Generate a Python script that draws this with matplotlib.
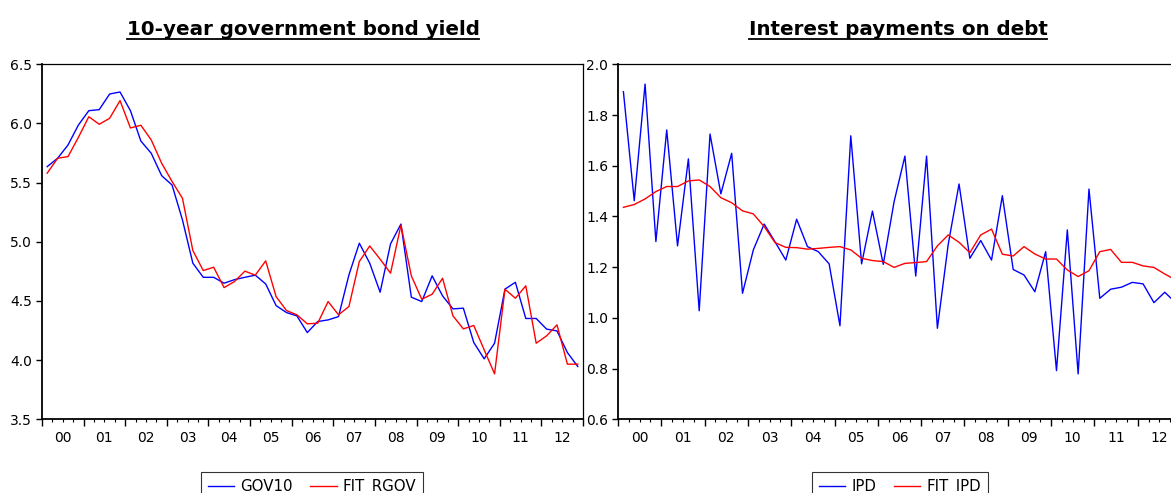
import numpy as np
import pandas as pd
import matplotlib
matplotlib.use("Agg")
import matplotlib.pyplot as plt
from matplotlib.lines import Line2D
from matplotlib.ticker import FixedLocator, FixedFormatter, NullFormatter

plt.rcParams['font.family'] = ['DejaVu Sans']

# Quarterly sample 2000Q1 - 2012Q4
quarters = pd.period_range('2000Q1', '2012Q4', freq='Q')
year_labels = ['00', '01', '02', '03', '04', '05', '06', '07', '08', '09', '10', '11', '12']

gov10 = [5.635, 5.706, 5.818, 5.987, 6.108, 6.117, 6.249, 6.266, 6.108, 5.852,
         5.748, 5.559, 5.480, 5.185, 4.819, 4.700, 4.700, 4.650, 4.680, 4.700,
         4.718, 4.644, 4.461, 4.402, 4.374, 4.233, 4.326, 4.340, 4.368, 4.720,
         4.988, 4.819, 4.574, 4.982, 5.150, 4.532, 4.495, 4.712, 4.543, 4.433,
         4.439, 4.149, 4.011, 4.143, 4.600, 4.658, 4.352, 4.352, 4.262, 4.247,
         4.064, 3.946]
fit_rgov = [5.580, 5.706, 5.720, 5.883, 6.057, 5.993, 6.044, 6.193, 5.962, 5.985,
            5.861, 5.664, 5.510, 5.368, 4.926, 4.757, 4.785, 4.613, 4.664, 4.752,
            4.718, 4.839, 4.537, 4.419, 4.383, 4.307, 4.312, 4.495, 4.383, 4.453,
            4.833, 4.965, 4.853, 4.735, 5.140, 4.712, 4.515, 4.557, 4.692, 4.374,
            4.264, 4.293, 4.087, 3.884, 4.599, 4.523, 4.628, 4.143, 4.205, 4.298,
            3.966, 3.966]

ipd = [1.892, 1.462, 1.922, 1.301, 1.741, 1.284, 1.627, 1.028, 1.725, 1.489,
       1.649, 1.097, 1.268, 1.370, 1.300, 1.228, 1.389, 1.281, 1.261, 1.213,
       0.969, 1.718, 1.213, 1.421, 1.211, 1.458, 1.638, 1.165, 1.638, 0.959,
       1.290, 1.528, 1.235, 1.305, 1.228, 1.482, 1.191, 1.169, 1.103, 1.261,
       0.792, 1.347, 0.779, 1.508, 1.077, 1.113, 1.121, 1.140, 1.134, 1.060,
       1.101, 1.060]
fit_ipd = [1.436, 1.447, 1.469, 1.498, 1.518, 1.518, 1.540, 1.544, 1.518, 1.474,
           1.454, 1.422, 1.410, 1.360, 1.297, 1.278, 1.277, 1.271, 1.274, 1.278,
           1.281, 1.268, 1.235, 1.226, 1.222, 1.199, 1.215, 1.218, 1.222, 1.284,
           1.327, 1.298, 1.257, 1.327, 1.350, 1.251, 1.244, 1.281, 1.252, 1.232,
           1.232, 1.189, 1.163, 1.186, 1.261, 1.270, 1.219, 1.219, 1.205, 1.199,
           1.173, 1.150]

W, H = 1171, 493
fig = plt.figure(figsize=(W / 100, H / 100), dpi=100)

# each quarter sits in the middle of its slot on the axis
n = len(quarters)
xpos = np.arange(n) + 0.5

BLUE = '#0000FF'
RED = '#FF0000'
TICK_FS = 10
LEGEND_FS = 10.8


def px_axes(left, right, top, bottom):
    return fig.add_axes([left / W, (H - bottom) / H, (right - left) / W, (bottom - top) / H])


def style_axes(ax, ylim, yticks, yfmt):
    ax.set_xlim(0, n)
    ax.set_ylim(*ylim)
    # year boundaries (long ticks), quarters (short ticks), year labels mid-year
    ax.xaxis.set_major_locator(FixedLocator(np.arange(0, n + 1, 4)))
    ax.xaxis.set_major_formatter(NullFormatter())
    minor = [q for q in range(n) if q % 4 != 0]
    ax.xaxis.set_minor_locator(FixedLocator(minor))
    labels = [year_labels[q // 4] if q % 4 == 2 else '' for q in minor]
    ax.xaxis.set_minor_formatter(FixedFormatter(labels))
    ax.tick_params(axis='x', which='major', length=5.2, width=1.0, direction='out', color='black')
    ax.tick_params(axis='x', which='minor', length=2.4, width=0.8, direction='out', color='black',
                   pad=6.0, labelsize=TICK_FS)
    ax.set_yticks(yticks)
    ax.set_yticklabels([yfmt.format(v) for v in yticks])
    ax.tick_params(axis='y', which='major', length=4.5, width=1.0, direction='out',
                   pad=2.5, labelsize=TICK_FS)
    for s in ['top', 'right']:
        ax.spines[s].set_linewidth(0.9)
    for s in ['left', 'bottom']:
        ax.spines[s].set_linewidth(1.3)
    for s in ax.spines.values():
        s.set_color('black')


# left panel: bond yield
ax1 = px_axes(42, 583, 64.3, 419.3)
ax1.plot(xpos, gov10, color=BLUE, lw=1.0, label='GOV10')
ax1.plot(xpos, fit_rgov, color=RED, lw=1.0, label='FIT_RGOV')
style_axes(ax1, (3.5, 6.5), np.arange(3.5, 6.51, 0.5), '{:.1f}')

# right panel: interest payments (runs past the right edge of the figure)
ax2 = px_axes(618, 1181, 64.3, 419.3)
ax2.plot(xpos, ipd, color=BLUE, lw=1.0, label='IPD')
ax2.plot(xpos, fit_ipd, color=RED, lw=1.0, label='FIT_IPD')
style_axes(ax2, (0.6, 2.0), np.arange(0.6, 2.01, 0.2), '{:.1f}')

# legends below each panel
legend_kw = dict(loc='upper center', ncol=2, fontsize=LEGEND_FS, frameon=True, fancybox=False,
                 edgecolor='black', handlelength=1.75, handletextpad=0.4,
                 columnspacing=1.2, borderpad=0.45, borderaxespad=0.0)
h1, l1 = ax1.get_legend_handles_labels()
lg1 = fig.legend(h1, l1, bbox_to_anchor=(312 / W, (H - 472) / H), **legend_kw)
h2, l2 = ax2.get_legend_handles_labels()
lg2 = fig.legend(h2, l2, bbox_to_anchor=(900 / W, (H - 472) / H), **legend_kw)
for lg in (lg1, lg2):
    lg.get_frame().set_linewidth(0.8)

# underlined bold titles
titles = [(303, '10-year government bond yield'), (898, 'Interest payments on debt')]
title_artists = []
for cx, txt in titles:
    t = fig.text(cx / W, (H - 29.5) / H, txt, ha='center', va='center',
                 fontsize=14.3, fontweight='bold')
    title_artists.append(t)

fig.canvas.draw()
renderer = fig.canvas.get_renderer()
for t in title_artists:
    bb = t.get_window_extent(renderer)
    y = bb.y0 + 0.5
    fig.add_artist(Line2D([bb.x0 / W, bb.x1 / W], [y / H, y / H], color='black', lw=1.3,
                          transform=fig.transFigure))

fig.savefig('out.png', dpi=100)
